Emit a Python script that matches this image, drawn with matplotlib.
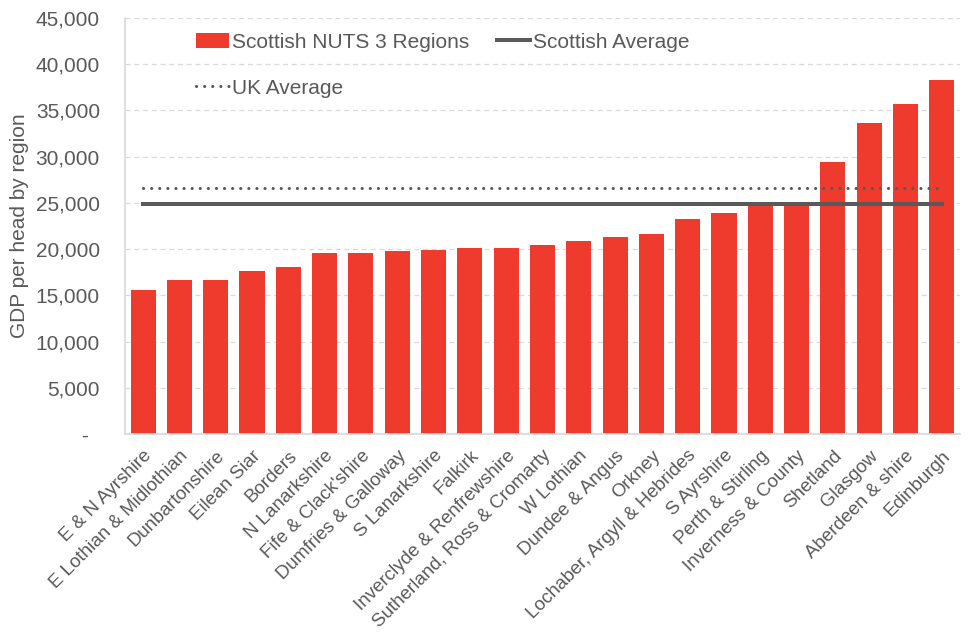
import numpy as np
import matplotlib.pyplot as plt
from matplotlib.ticker import FuncFormatter

regions = ["E & N Ayrshire", "E Lothian & Midlothian", "Dunbartonshire", "Eilean Siar",
           "Borders", "N Lanarkshire", "Fife & Clack'shire", "Dumfries & Galloway",
           "S Lanarkshire", "Falkirk", "Inverclyde & Renfrewshire",
           "Sutherland, Ross & Cromarty", "W Lothian", "Dundee & Angus", "Orkney",
           "Lochaber, Argyll & Hebrides", "S Ayrshire", "Perth & Stirling",
           "Inverness & County", "Shetland", "Glasgow", "Aberdeen & shire", "Edinburgh"]
gdp = [15600, 16700, 16700, 17600, 18100, 19600, 19600, 19800, 19900, 20150, 20150,
       20400, 20900, 21300, 21600, 23300, 23900, 24800, 24800, 29400, 33600, 35700, 38300]
scot_avg = 24900
uk_avg = 26600

plt.rcParams['font.family'] = ['Liberation Sans', 'DejaVu Sans']
grey = '#595959'
red = '#EE3B2E'

fig = plt.figure(figsize=(9.76, 6.36), dpi=100)
ax = fig.add_axes([0.128, 0.3176, 0.8556, 0.6541])

x = np.arange(len(regions))
bars = ax.bar(x, gdp, width=0.69, color=red, zorder=2, label='Scottish NUTS 3 Regions')
l_scot, = ax.plot([x[0], x[-1]], [scot_avg, scot_avg], color=grey, lw=2.9,
                  zorder=3, label='Scottish Average')
l_uk, = ax.plot([x[0], x[-1]], [uk_avg, uk_avg], color=grey, lw=2.2, ls=(0, (0.05, 2.6)),
                dash_capstyle='round', zorder=3, label='UK Average')

ax.set_xlim(-0.5, len(regions) - 0.5)
ax.set_ylim(0, 45000)
ax.set_yticks(np.arange(0, 45001, 5000))
ax.yaxis.set_major_formatter(FuncFormatter(lambda v, p: '-  ' if v == 0 else f'{int(v):,}'))
ax.grid(axis='y', color='#d9d9d9', ls=(0, (4, 3)), lw=0.9, zorder=0)

for s in ['top', 'right']:
    ax.spines[s].set_visible(False)
for s in ['left', 'bottom']:
    ax.spines[s].set_color('#d9d9d9')
    ax.spines[s].set_linewidth(1.2)

ax.tick_params(axis='y', length=0, pad=18, labelsize=15, labelcolor=grey)
ax.tick_params(axis='x', length=0, pad=9.5, labelsize=13.5, labelcolor=grey)
ax.set_xticks(x)
ax.set_xticklabels(regions, rotation=45, ha='right', va='top', rotation_mode='anchor')

ax.set_ylabel('GDP per head by region', fontsize=15, color=grey, labelpad=5)

leg = ax.legend([bars, l_uk, l_scot], ['Scottish NUTS 3 Regions', 'UK Average', 'Scottish Average'],
                ncol=2, loc='upper left', bbox_to_anchor=(0.075, 0.985), frameon=False,
                fontsize=15, labelcolor=grey, handlelength=1.6, handletextpad=0.15,
                columnspacing=1.3, labelspacing=1.3, borderaxespad=0)

fig.savefig('out.png', dpi=100)
